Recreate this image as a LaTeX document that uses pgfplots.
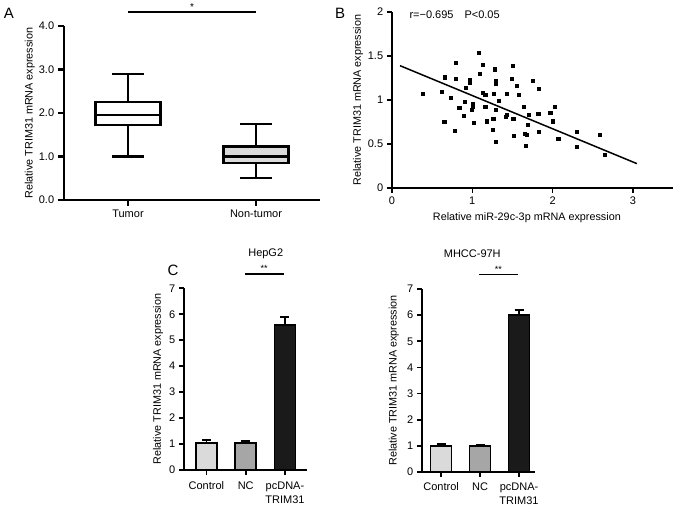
\documentclass[border=0pt]{standalone}
\usepackage{pgfplots}
\pgfplotsset{compat=1.18}
\usepgfplotslibrary{statistics}
\usepackage{fontspec}
\setmainfont{Liberation Sans}
\definecolor{cLight}{HTML}{DADADA}
\definecolor{cMid}{HTML}{A6A6A6}
\definecolor{cDark}{HTML}{1A1A1A}
\begin{document}
\fontsize{11}{13}\selectfont
\begin{tikzpicture}[x=1pt,y=1pt]
\useasboundingbox (0,0) rectangle (677,508);
\pgfplotsset{
  every axis/.append style={
    scale only axis,
    axis lines=left,
    tick align=outside,
    /pgf/number format/assume math mode=true,
    tick label style={font=\fontsize{11}{13}\selectfont},
    label style={font=\fontsize{10.8}{13}\selectfont},
    clip=false,
  },
  cbar/.style={ybar, bar width=21pt, bar shift=0pt, draw=black, line width=1.8pt,
    error bars/y dir=plus, error bars/y explicit,
    error bars/error bar style={line width=1.8pt,black},
    error bars/error mark options={rotate=90, mark size=4.5pt, line width=1.8pt,black}},
}
% Panel labels
\node at (9,495) {\fontsize{15}{17}\selectfont A};
\node at (340,495) {\fontsize{15}{17}\selectfont B};
\node at (173,238) {\fontsize{15}{17}\selectfont C};

% ---------------- Panel A ----------------
\begin{axis}[at={(64pt,308pt)}, anchor=south west, width=256pt, height=174pt,
  xmin=0.5, xmax=2.5, ymin=0, ymax=4,
  xtick={1,2}, xticklabels={Tumor,Non-tumor},
  ytick={0,1,2,3,4},
  yticklabel style={/pgf/number format/.cd,fixed,fixed zerofill,precision=1},
  axis line style={-,line width=2.2pt},
  major tick style={line width=2.2pt,black},
  major tick length=6pt,
  ylabel={Relative TRIM31 mRNA expression},
  ylabel style={at={(axis description cs:-0.133,0.5)},anchor=center},
]
\addplot[boxplot/draw direction=y, boxplot prepared={draw position=1, median=1.95, upper quartile=2.25,
  lower quartile=1.72, upper whisker=2.9, lower whisker=1.0,
  box extend=0.51, whisker extend=0.25},
  draw=black, fill=white, line width=2.4pt, solid] coordinates {};
\addplot[boxplot/draw direction=y, boxplot prepared={draw position=2, median=1.0, upper quartile=1.23,
  lower quartile=0.85, upper whisker=1.75, lower whisker=0.5,
  box extend=0.51, whisker extend=0.25},
  draw=black, fill=cLight, line width=2.4pt, solid] coordinates {};
\draw[line width=1.2pt] (axis cs:1,4.32) -- (axis cs:2,4.32);
\node[font=\fontsize{10}{11}\selectfont] at (axis cs:1.5,4.44) {*};
\end{axis}

% ---------------- Panel B ----------------
\begin{axis}[at={(392pt,320pt)}, anchor=south west, width=281pt, height=176pt,
  xmin=0, xmax=3.5, ymin=0, ymax=2,
  xtick={0,1,2,3}, ytick={0,0.5,1,1.5,2},
  axis line style={-,line width=1.5pt},
  major tick style={line width=1.5pt,black},
  major tick length=5pt,
  xlabel={Relative miR-29c-3p mRNA expression},
  ylabel={Relative TRIM31 mRNA expression},
  xlabel style={at={(axis description cs:0.48,-0.17)},anchor=center},
  ylabel style={at={(axis description cs:-0.121,0.5)},anchor=center},
]
\addplot[only marks, mark=square*, mark size=1.6pt, black] coordinates {
(0.385,1.072)(0.62,1.09)(0.66,1.26)(0.65,0.754)(0.73,1.03)(0.79,1.42)
(0.79,1.24)(0.78,0.655)(0.836,0.909)(0.89,0.826)(0.91,0.985)(0.92,1.136)
(0.964,1.23)(0.964,1.20)(0.99,0.89)(1.005,0.928)(1.01,0.958)(1.02,0.739)
(1.076,1.54)(1.088,1.295)(1.13,1.40)(1.13,1.08)(1.16,1.06)(1.16,0.928)
(1.18,0.758)(1.25,0.663)(1.26,0.788)(1.27,1.07)(1.28,1.35)(1.29,1.22)
(1.29,1.19)(1.29,0.89)(1.29,0.53)(1.33,0.996)(1.43,1.07)(1.42,0.814)
(1.43,0.833)(1.49,1.24)(1.50,1.39)(1.51,0.788)(1.52,0.595)(1.55,1.163)
(1.58,1.06)(1.64,0.928)(1.655,0.614)(1.67,0.485)(1.68,0.61)(1.69,0.72)
(1.70,0.833)(1.75,1.22)(1.82,0.84)(1.83,1.125)(1.83,0.636)(1.97,0.852)
(2.00,0.758)(2.03,0.928)(2.07,0.56)(2.30,0.644)(2.30,0.466)(2.59,0.606)
(2.65,0.379)
};
\addplot[black, line width=1.5pt] coordinates {(0.1,1.39)(3.05,0.277)};
\node[anchor=west] at (axis cs:0.17,1.97) {r=−0.695\quad P<0.05};
\end{axis}

% ---------------- Panel C left ----------------
\begin{axis}[at={(184pt,38pt)}, anchor=south west, width=123pt, height=181.7pt,
  xmin=-0.57, xmax=2.56, ymin=0, ymax=7,
  xtick={0,1,2}, xticklabels={Control,NC,{pcDNA-\\TRIM31}},
  xticklabel style={align=center, font=\fontsize{11}{14.5}\selectfont, yshift=-3pt},
  ytick={0,1,...,7},
  axis line style={-,line width=1.8pt},
  major tick style={line width=1.8pt,black},
  major tick length=5pt,
  ylabel={Relative TRIM31 mRNA expression},
  ylabel style={at={(axis description cs:-0.21,0.5)},anchor=center},
]
\addplot[cbar, fill=cLight] coordinates {(0,1.03) +- (0,0.14)};
\addplot[cbar, fill=cMid] coordinates {(1,1.03) +- (0,0.08)};
\addplot[cbar, fill=cDark] coordinates {(2,5.6) +- (0,0.3)};
\draw[line width=1.2pt] (axis cs:0.98,7.55) -- (axis cs:1.97,7.55);
\node[font=\fontsize{9}{10}\selectfont] at (axis cs:1.47,7.76) {**};
\node at (axis cs:1.51,8.32) {HepG2};
\end{axis}

% ---------------- Panel C right ----------------
\begin{axis}[at={(422pt,36pt)}, anchor=south west, width=113pt, height=183pt,
  xmin=-0.49, xmax=2.41, ymin=0, ymax=7,
  xtick={0,1,2}, xticklabels={Control,NC,{pcDNA-\\TRIM31}},
  xticklabel style={align=center, font=\fontsize{11}{14.5}\selectfont, yshift=-2pt},
  ytick={0,1,...,7},
  axis line style={-,line width=1.8pt},
  major tick style={line width=1.8pt,black},
  major tick length=5pt,
  ylabel={Relative TRIM31 mRNA expression},
  ylabel style={at={(axis description cs:-0.25,0.5)},anchor=center},
]
\addplot[cbar, fill=cLight] coordinates {(0,1.0) +- (0,0.06)};
\addplot[cbar, fill=cMid] coordinates {(1,0.98) +- (0,0.06)};
\addplot[cbar, fill=cDark] coordinates {(2,6.0) +- (0,0.2)};
\draw[line width=1.2pt] (axis cs:0.97,7.54) -- (axis cs:1.97,7.54);
\node[font=\fontsize{9}{10}\selectfont] at (axis cs:1.47,7.75) {**};
\node at (axis cs:0.8,8.34) {MHCC-97H};
\end{axis}
\end{tikzpicture}
\end{document}
